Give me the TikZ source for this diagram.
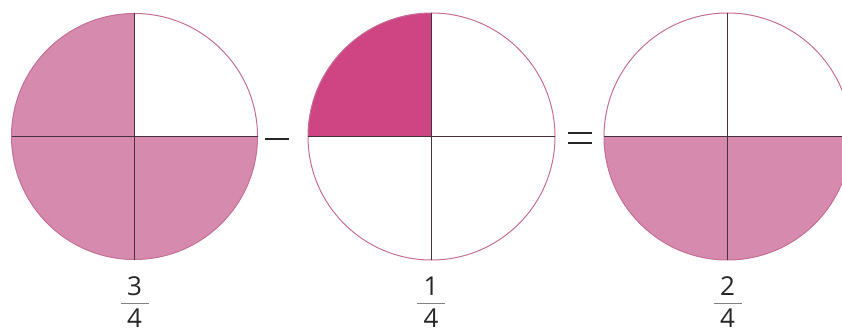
\documentclass[tikz,border=0pt]{standalone}
\usepackage{fontspec}
\setmainfont{Open Sans}
\definecolor{lightpink}{RGB}{214,139,174}
\definecolor{deeppink}{RGB}{207,69,131}
\definecolor{rimpink}{RGB}{196,112,150}
\definecolor{crossline}{RGB}{70,50,60}
\definecolor{fracbar}{RGB}{130,130,130}
\tikzset{
  rim/.style={draw=rimpink, line width=1pt},
  cross/.style={draw=crossline, line width=1.5pt},
  digit/.style={font=\fontsize{26}{26}\selectfont, text=black!85, inner sep=0pt, anchor=center},
  fbar/.style={draw=fracbar, line width=1pt},
  sign/.style={draw=black!85, line width=1.4pt}
}
\begin{document}
\begin{tikzpicture}[x=1pt,y=-1pt]
\useasboundingbox (0,0) rectangle (842,334);
\clip (0,0) rectangle (842,334);
\fill[white] (0,0) rectangle (842,334);
% circle 1 : 3/4 (all but upper right quarter)
\coordinate (c1) at (134.5,136.5);
\fill[lightpink] (c1) -- ++(0,-123) arc[start angle=-90,end angle=-360,radius=123] -- cycle;
\draw[rim] (c1) circle[radius=123];
\draw[cross] ([yshift=123pt]c1) -- ([yshift=-123pt]c1);
\draw[cross] ([xshift=-123pt]c1) -- ([xshift=123pt]c1);
% circle 2 : 1/4 (upper left quarter)
\coordinate (c2) at (431.5,136.5);
\fill[deeppink] (c2) -- ++(-123.5,0) arc[start angle=-180,end angle=-90,radius=123.5] -- cycle;
\draw[rim] (c2) circle[radius=123.5];
\draw[cross] ([yshift=123.5pt]c2) -- ([yshift=-123.5pt]c2);
\draw[cross] ([xshift=-123.5pt]c2) -- ([xshift=123.5pt]c2);
% circle 3 : 2/4 (lower half)
\coordinate (c3) at (727.5,136.5);
\fill[lightpink] (c3) -- ++(-123.5,0) arc[start angle=-180,end angle=-360,radius=123.5] -- cycle;
\draw[rim] (c3) circle[radius=123.5];
\draw[cross] ([yshift=123.5pt]c3) -- ([yshift=-123.5pt]c3);
\draw[cross] ([xshift=-123.5pt]c3) -- ([xshift=123.5pt]c3);
% signs
\draw[sign] (265,139) -- (289,139);
\draw[sign] (568,133) -- (592,133);
\draw[sign] (568,143) -- (592,143);
% fractions
\node[digit] (n1) at (134.5,286.5) {3};
\node[digit] (d1) at (134.5,318.5) {4};
\draw[fbar] (120.5,303) -- (148.5,303);
\node[digit] (n2) at (431,286.5) {1};
\node[digit] (d2) at (431,318.5) {4};
\draw[fbar] (417,303) -- (445,303);
\node[digit] (n3) at (727.5,286.5) {2};
\node[digit] (d3) at (727.5,318.5) {4};
\draw[fbar] (713.5,303) -- (741.5,303);
\end{tikzpicture}
\end{document}
